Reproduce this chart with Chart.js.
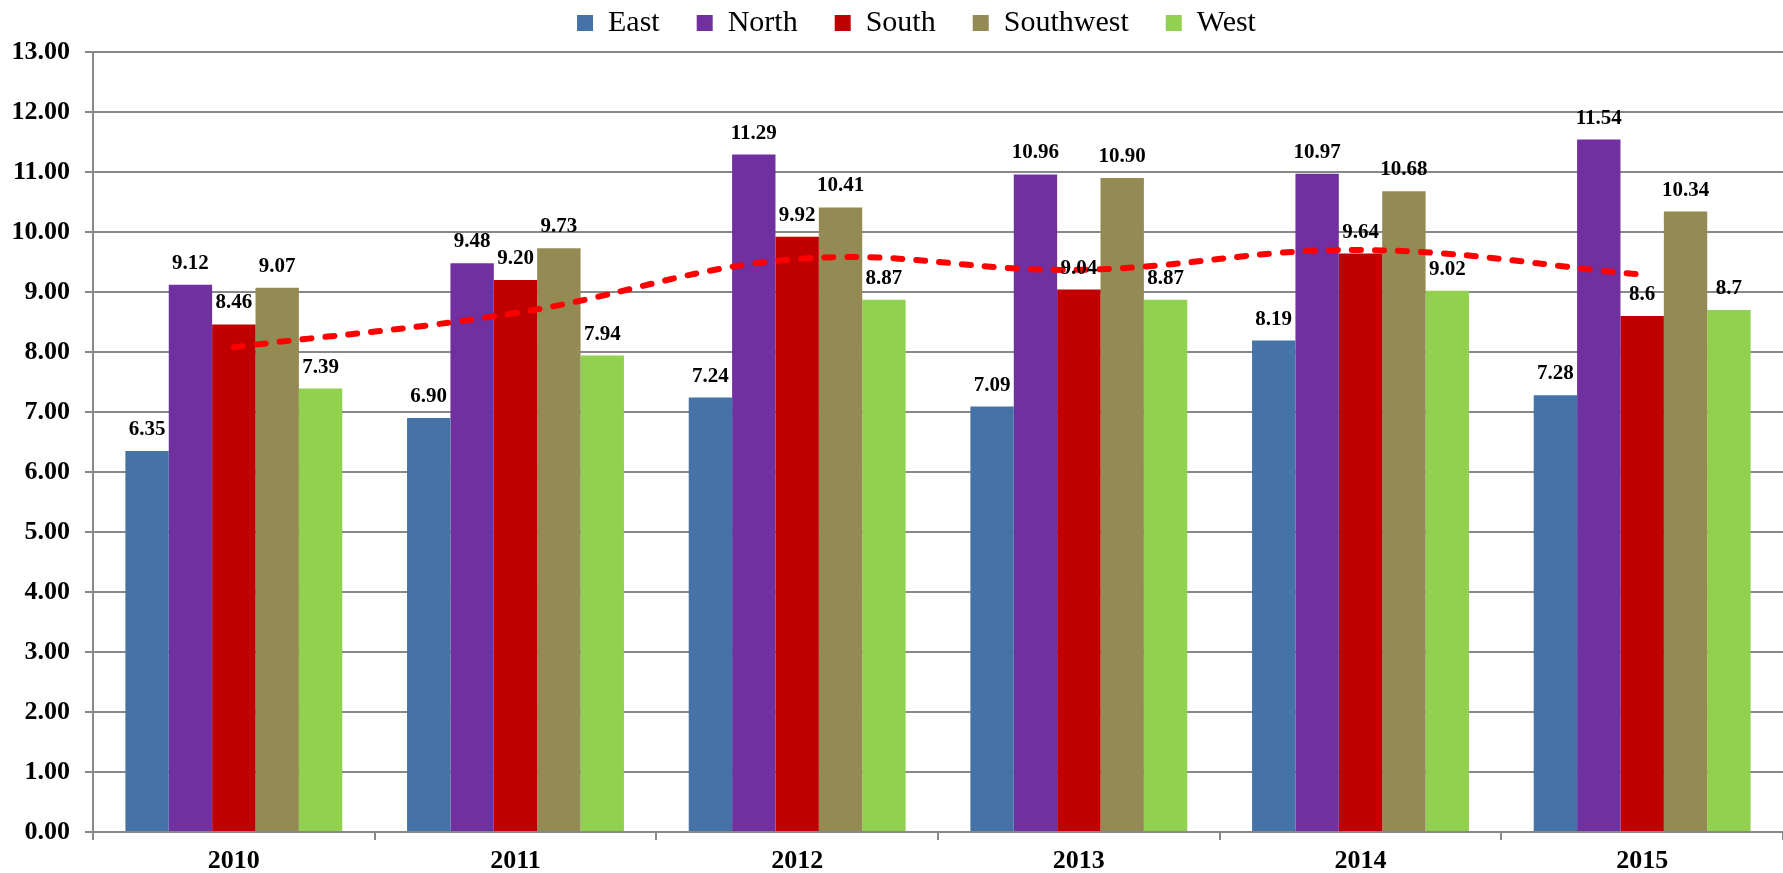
<!DOCTYPE html>
<html>
<head>
<meta charset="utf-8">
<script src="https://cdn.jsdelivr.net/npm/chart.js@4/dist/chart.umd.min.js"></script>
<style>
  html, body { margin: 0; padding: 0; background: #fff; }
  #wrap { width: 1783px; height: 873px; }
</style>
</head>
<body>
<div id="wrap"><canvas id="grafico"></canvas></div>
<script>
// valores (texto igual ao rótulo mostrado)
const anos = ['2010', '2011', '2012', '2013', '2014', '2015'];
const east = ['6.35', '6.90', '7.24', '7.09', '8.19', '7.28'];
const north = ['9.12', '9.48', '11.29', '10.96', '10.97', '11.54'];
const south = ['8.46', '9.20', '9.92', '9.04', '9.64', '8.6'];
const southwest = ['9.07', '9.73', '10.41', '10.90', '10.68', '10.34'];
const west = ['7.39', '7.94', '8.87', '8.87', '9.02', '8.7'];
// linha tracejada vermelha (média)
const media = [8.08, 8.65, 9.55, 9.37, 9.70, 9.29];

const fonte = '"Liberation Serif", "Times New Roman", serif';
const cinza = '#888888';

// rótulos em cima das barras
const rotulos = {
  id: 'rotulos',
  afterLayout(chart) {
    // legenda um pouco deslocada para a direita e para cima, como no original
    chart.legend.left += 50;
    chart.legend.top -= 4;
  },
  afterDatasetsDraw(chart) {
    const ctx = chart.ctx;
    ctx.save();
    ctx.font = 'bold 21px ' + fonte;
    ctx.fillStyle = '#000';
    ctx.textAlign = 'center';
    ctx.textBaseline = 'alphabetic';
    chart.data.datasets.forEach((ds, i) => {
      if (ds.type === 'line') return;
      chart.getDatasetMeta(i).data.forEach((bar, j) => {
        ctx.fillText(ds.data[j], bar.x, bar.y - 16);
      });
    });
    ctx.restore();
  }
};

const ctx = document.getElementById('grafico');
window.myChart = new Chart(ctx, {
  type: 'bar',
  data: {
    labels: anos,
    datasets: [
      { label: 'East', data: east, backgroundColor: '#4572A7', order: 1 },
      { label: 'North', data: north, backgroundColor: '#7030A0', order: 1 },
      { label: 'South', data: south, backgroundColor: '#C00000', order: 1 },
      { label: 'Southwest', data: southwest, backgroundColor: '#948A54', order: 1 },
      { label: 'West', data: west, backgroundColor: '#92D050', order: 1 },
      {
        type: 'line',
        label: 'Média',
        data: media,
        borderColor: '#FF0000',
        borderWidth: 6,
        borderDash: [9, 14],
        borderCapStyle: 'round',
        pointRadius: 0,
        tension: 0.4,
        fill: false,
        order: 0,
      },
    ],
  },
  options: {
    responsive: true,
    maintainAspectRatio: false,
    animation: false,
    categoryPercentage: 0.77,
    barPercentage: 1.0,
    layout: { padding: { top: -37, left: 0, right: 0, bottom: 0 } },
    plugins: {
      tooltip: { enabled: false },
      legend: {
        position: 'top',
        labels: {
          boxWidth: 16,
          boxHeight: 16,
          padding: 37,
          color: '#000',
          font: { family: fonte, size: 30 },
          filter: (item) => item.datasetIndex < 5,
        },
      },
    },
    scales: {
      x: {
        ticks: { color: '#000', padding: 6, font: { family: fonte, size: 26, weight: 'bold' } },
        grid: { drawOnChartArea: false, color: cinza, lineWidth: 2, tickLength: 8 },
        border: { color: cinza, width: 2 },
        afterFit(scale) { scale.height = 41; },
      },
      y: {
        min: 0,
        max: 13,
        ticks: {
          stepSize: 1,
          padding: 15,
          color: '#000',
          font: { family: fonte, size: 26, weight: 'bold' },
          callback: (v) => Number(v).toFixed(2),
        },
        grid: { color: cinza, lineWidth: 2, tickLength: 8 },
        border: { color: cinza, width: 2 },
        afterFit(scale) { scale.width = 93; scale.paddingTop = 52; },
      },
    },
  },
  plugins: [rotulos],
});
</script>
</body>
</html>
